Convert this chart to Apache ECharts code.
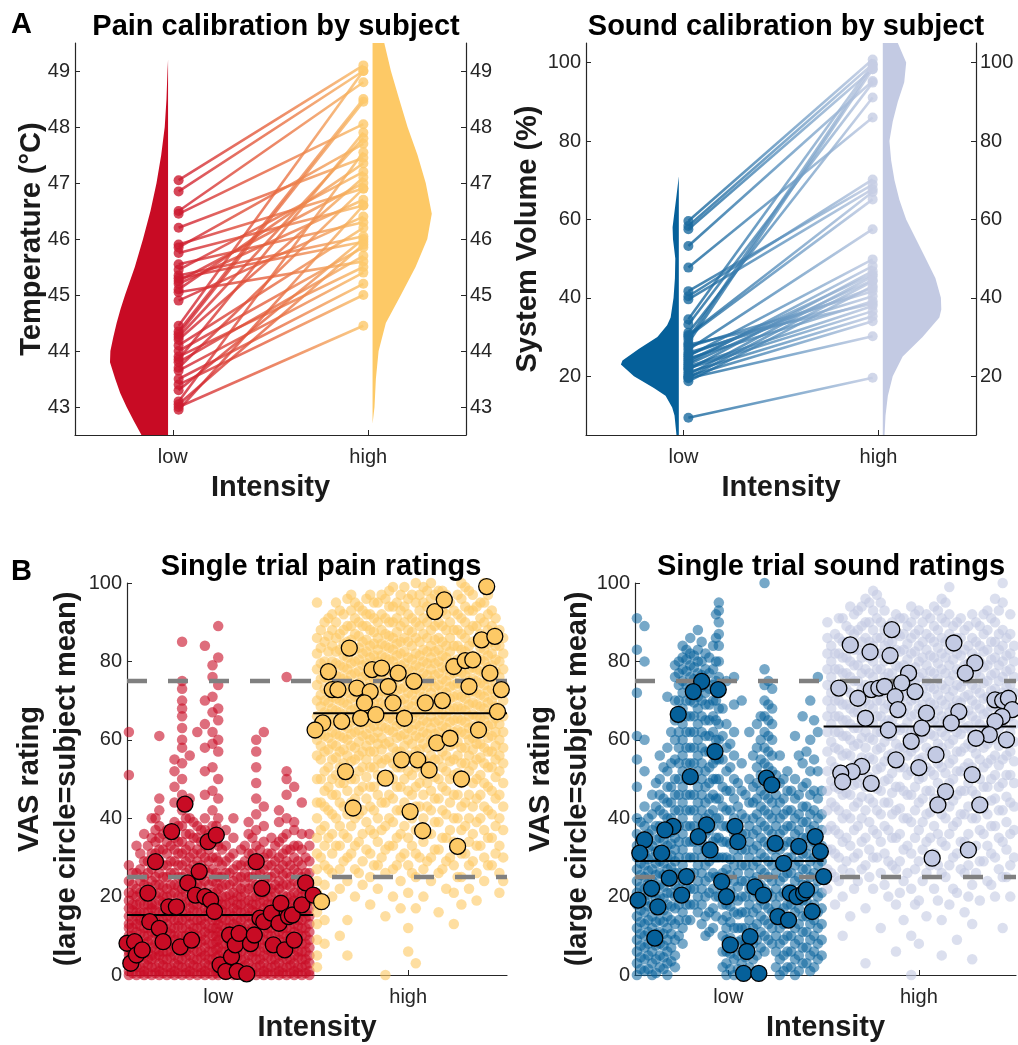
<!DOCTYPE html>
<html>
<head>
<meta charset="utf-8">
<title>Calibration and single trial ratings</title>
<script src="https://cdn.jsdelivr.net/npm/echarts@6/dist/echarts.min.js"></script>
<style>
  html, body { margin: 0; padding: 0; background: #fff; }
  #main { width: 1018px; height: 1045px; }
</style>
</head>
<body>
<div id="main"></div>
<script>
// ---- data ----
const intensityLabels = ['low', 'high']

// calibration per subject: low and high level in the same subject order
const painLowTemp = [47.05, 46.85, 46.5, 46.45, 46.2, 45.9, 45.85, 45.75, 45.55, 45.45, 45.35, 45.3,
  45.2, 45.1, 45.05, 44.9, 44.45, 44.35, 44.25, 44.2, 44.1, 44.0, 43.9, 43.8, 43.7, 43.65, 43.5,
  43.4, 43.3, 43.1, 43.0, 42.95, 44.3, 43.85, 45.25, 43.05]
const painHighTemp = [49.1, 49.0, 48.8, 48.05, 47.45, 46.9, 47.7, 46.6, 46.3, 47.2, 46.05, 45.95,
  46.7, 47.35, 45.6, 46.4, 49.0, 48.5, 47.8, 47.1, 46.2, 45.85, 45.5, 45.7, 46.9, 45.4, 45.2,
  45.0, 46.0, 47.55, 44.45, 46.6, 48.45, 47.9, 47.0, 45.9]
const soundLowVol = [59.6, 58.3, 57.5, 53.2, 47.7, 41.7, 40.4, 39.6, 34.5, 33.2, 31.1, 30.2, 28.5,
  26.8, 25.1, 23.4, 21.7, 20.4, 19.6, 18.7, 9.4, 27.5, 26, 24.5, 22.5, 22, 21, 20, 19.5, 24, 25.5,
  28, 23, 29.5, 30.5]
const soundHighVol = [100.8, 99.6, 98.3, 95.3, 86.0, 68.9, 70.2, 67.7, 99.6, 94.9, 91.1, 65.1, 98.3,
  57.5, 49.8, 48.1, 46.8, 45.5, 44.2, 43.0, 19.6, 41.7, 40.4, 39.1, 37.9, 36.6, 35.3, 34.0, 30.2,
  46.0, 42.5, 38.5, 44.5, 99.0, 67.0]

// violin outlines: [value, half width in x units]
const painLowViolin = [[42.5, 0.136], [42.75, 0.175], [43, 0.212], [43.25, 0.245], [43.5, 0.27],
  [43.8, 0.297], [44, 0.295], [44.25, 0.28], [44.5, 0.263], [44.75, 0.243], [45, 0.22], [45.5, 0.17],
  [46, 0.128], [46.5, 0.09], [47, 0.059], [47.5, 0.035], [48, 0.017], [48.5, 0.008], [49, 0.003], [49.2, 0]]
const painHighViolin = [[42.7, 0], [43, 0.01], [43.5, 0.017], [44, 0.031], [44.5, 0.068], [45, 0.145],
  [45.5, 0.22], [46, 0.28], [46.45, 0.303], [47, 0.272], [47.5, 0.23], [48, 0.179], [48.5, 0.136],
  [49, 0.094], [49.5, 0.06]]
const soundLowViolin = [[5, 0.012], [10, 0.022], [12, 0.034], [15, 0.068], [17, 0.128], [20, 0.23],
  [23, 0.297], [24, 0.289], [27, 0.204], [30, 0.11], [33, 0.06], [35, 0.042], [40, 0.027], [45, 0.02],
  [50, 0.018], [55, 0.03], [58, 0.032], [62, 0.022], [66, 0.012], [71, 0]]
const soundHighViolin = [[5, 0.009], [10, 0.014], [15, 0.026], [20, 0.051], [25, 0.102], [30, 0.204],
  [35, 0.29], [37, 0.3], [40, 0.298], [45, 0.27], [50, 0.22], [55, 0.17], [60, 0.12], [65, 0.085],
  [70, 0.06], [75, 0.043], [80, 0.034], [85, 0.051], [90, 0.077], [95, 0.11], [100, 0.12], [105, 0.077]]

// single trial ratings, grouped in columns: [x position, ratings]
const painLowTrials = [
  [0.53, [0, 1, 3, 5, 6, 8, 10, 12, 13, 15, 17, 19, 21, 24, 28, 51, 62]],
  [0.57, [0, 2, 4, 6, 7, 9, 11, 13, 15, 16, 18, 20, 22, 26, 33]],
  [0.61, [0, 1, 3, 5, 7, 8, 10, 12, 14, 16, 18, 20, 23, 25, 29, 36]],
  [0.65, [0, 2, 4, 5, 7, 9, 11, 13, 15, 17, 18, 21, 24, 27, 31, 35, 40]],
  [0.69, [0, 1, 3, 5, 6, 8, 10, 12, 14, 16, 19, 21, 23, 26, 29, 32, 35, 38, 42, 45, 61]],
  [0.73, [0, 2, 4, 6, 8, 9, 11, 13, 15, 17, 20, 22, 25, 28, 31, 34, 37]],
  [0.77, [0, 1, 3, 5, 7, 9, 10, 12, 14, 16, 18, 21, 23, 26, 29, 32, 35, 39, 44, 48, 52, 55]],
  [0.81, [0, 2, 4, 6, 8, 10, 12, 14, 16, 18, 20, 22, 25, 28, 31, 34, 38, 42, 46, 50, 54, 58, 60, 63, 66, 68, 70, 73, 75, 85]],
  [0.85, [0, 1, 3, 5, 7, 9, 11, 13, 15, 17, 19, 22, 24, 27, 30, 33, 36, 40, 45, 56]],
  [0.89, [0, 2, 4, 6, 8, 10, 12, 14, 16, 18, 20, 23, 26, 29, 32, 35, 38, 62]],
  [0.93, [0, 1, 3, 5, 7, 9, 11, 13, 15, 17, 19, 21, 24, 27, 30, 33, 37, 40, 46, 52, 58, 64, 70, 84]],
  [0.97, [0, 2, 4, 6, 8, 10, 12, 14, 16, 18, 21, 24, 27, 30, 34, 38, 42, 47, 53, 59, 62, 67, 71, 76, 79]],
  [1.00, [0, 1, 3, 5, 7, 9, 11, 13, 15, 17, 19, 22, 25, 29, 33, 36, 40, 45, 50, 57, 60, 65, 68, 74, 81, 89]],
  [1.04, [0, 2, 4, 6, 8, 10, 12, 14, 16, 18, 20, 23, 26, 29, 33, 37]],
  [1.08, [0, 1, 3, 5, 7, 9, 11, 13, 15, 17, 19, 21, 24, 27, 31, 35, 40]],
  [1.12, [0, 2, 4, 6, 8, 10, 12, 14, 16, 18, 20, 22, 25, 28, 32]],
  [1.16, [0, 1, 3, 5, 7, 9, 11, 13, 15, 17, 19, 22, 25, 28, 31, 36, 39]],
  [1.20, [0, 2, 4, 6, 8, 10, 12, 14, 16, 18, 20, 23, 26, 29, 33, 37, 41, 45, 49, 53, 57, 60]],
  [1.24, [0, 1, 3, 5, 7, 9, 11, 13, 15, 17, 19, 21, 24, 27, 30, 34, 38, 43, 62]],
  [1.28, [0, 2, 4, 6, 8, 10, 12, 14, 16, 18, 20, 22, 25, 28, 31, 35]],
  [1.32, [0, 1, 3, 5, 7, 9, 11, 13, 15, 17, 19, 22, 24, 27, 30, 34, 39, 42]],
  [1.36, [0, 2, 4, 6, 8, 10, 12, 14, 16, 18, 20, 23, 26, 29, 32, 36, 40, 46, 50, 52, 76]],
  [1.40, [0, 1, 3, 5, 7, 9, 11, 13, 15, 17, 19, 21, 24, 27, 30, 33, 37, 39, 48]],
  [1.44, [0, 2, 4, 6, 8, 10, 12, 14, 16, 18, 20, 22, 25, 28, 32, 36, 44]],
  [1.48, [0, 1, 3, 5, 7, 9, 11, 13, 15, 17, 19, 21, 23, 26, 29, 33, 36]]
]
// the in-between columns of the dense low-pain band
const painLowTrialsB = [
  [0.55, [0.5, 2.5, 4, 6.5, 8.5, 10, 12, 14, 16.5, 18, 20.5, 23, 26]],
  [0.59, [0.5, 2, 4.5, 6, 8, 10.5, 12.5, 14, 16, 18.5, 21, 24, 27, 31]],
  [0.63, [0.5, 2.5, 4, 6, 8.5, 10, 12, 14.5, 16, 18, 20, 22.5, 26, 29, 33]],
  [0.67, [0.5, 2, 4.5, 6.5, 8, 10.5, 12, 14, 16.5, 18, 20.5, 23, 25, 28, 31, 34, 37, 40]],
  [0.71, [0.5, 2.5, 4, 6, 8.5, 10, 12.5, 14, 16, 18.5, 20, 22.5, 25, 28, 32, 36]],
  [0.75, [0.5, 2, 4.5, 6, 8, 10.5, 12, 14.5, 16, 18, 20.5, 23, 26, 29, 33, 37]],
  [0.79, [0.5, 2.5, 4, 6.5, 8, 10, 12.5, 14, 16.5, 18, 20, 22.5, 25, 28, 31, 34, 38]],
  [0.83, [0.5, 2, 4.5, 6, 8.5, 10, 12, 14.5, 16, 18.5, 21, 23, 26, 29, 32, 36, 40]],
  [0.87, [0.5, 2.5, 4, 6.5, 8, 10.5, 12, 14, 16.5, 18, 20.5, 23, 25, 28, 31, 35, 39]],
  [0.91, [0.5, 2, 4.5, 6, 8.5, 10, 12.5, 14, 16, 18.5, 20, 22.5, 25, 28, 31, 34, 37]],
  [0.95, [0.5, 2.5, 4, 6, 8, 10.5, 12, 14.5, 16.5, 18, 20.5, 23, 26, 29, 32, 36]],
  [0.99, [0.5, 2, 4.5, 6.5, 8.5, 10, 12, 14, 16, 18.5, 21, 23.5, 26, 30, 34, 38]],
  [1.02, [0.5, 2.5, 4, 6, 8, 10.5, 12.5, 14.5, 16.5, 18, 20, 22.5, 25, 28, 32]],
  [1.06, [0.5, 2, 4.5, 6.5, 8.5, 10, 12, 14, 16, 18.5, 20.5, 23, 26, 30]],
  [1.10, [2, 4.5, 6, 8, 10.5, 12.5, 14, 16.5, 18, 20, 22.5, 25, 28]],
  [1.14, [0.5, 2.5, 4, 6.5, 8, 10, 12, 14.5, 16, 18.5, 21, 23.5, 26, 29, 33]],
  [1.18, [0.5, 2, 4.5, 6, 8.5, 10.5, 12, 14, 16.5, 18, 20, 22.5, 25, 28, 31, 35]],
  [1.22, [0.5, 2.5, 4, 6, 8, 10, 12.5, 14.5, 16, 18.5, 20.5, 23, 26, 29, 32]],
  [1.26, [0.5, 2, 4.5, 6.5, 8.5, 10.5, 12, 14, 16.5, 18, 20, 22.5, 25, 28, 31]],
  [1.30, [0.5, 2.5, 4, 6, 8, 10, 12.5, 14.5, 16, 18.5, 21, 23, 26, 29, 33]],
  [1.34, [0.5, 2, 4.5, 6, 8.5, 10.5, 12, 14, 16.5, 18, 20.5, 23, 25.5, 28, 31, 35]],
  [1.38, [0.5, 2.5, 4, 6.5, 8, 10, 12, 14.5, 16, 18.5, 20, 22.5, 25, 28, 32]],
  [1.42, [0.5, 2, 4.5, 6, 8.5, 10.5, 12.5, 14, 16.5, 18, 20.5, 23, 26, 29, 33]],
  [1.46, [0.5, 2.5, 4, 6, 8, 10, 12, 14.5, 16, 18.5, 21, 23.5, 26, 30]]
]
const painHighTrials = [
  [1.52, [2, 5, 9, 13, 16, 18, 21, 24, 27, 31, 35, 40, 44, 50, 56, 60, 63, 66, 70, 74, 78, 82, 86, 95]],
  [1.56, [8, 14, 19, 23, 28, 33, 38, 43, 47, 52, 57, 61, 64, 67, 70, 73, 76, 80, 85, 90]],
  [1.60, [20, 26, 31, 36, 41, 46, 50, 55, 59, 62, 65, 68, 71, 74, 77, 80, 84, 88, 92]],
  [1.64, [10, 22, 27, 33, 38, 44, 49, 53, 57, 61, 64, 67, 70, 73, 76, 79, 83, 87, 93]],
  [1.68, [5, 14, 24, 30, 35, 41, 47, 52, 56, 60, 63, 66, 69, 72, 75, 78, 81, 85, 89, 96]],
  [1.72, [20, 27, 33, 40, 45, 50, 55, 58, 62, 65, 68, 71, 74, 77, 80, 83, 87, 91, 95]],
  [1.76, [23, 29, 36, 42, 48, 53, 57, 61, 64, 67, 70, 73, 76, 79, 82, 85, 89, 93]],
  [1.80, [18, 25, 31, 37, 43, 48, 53, 57, 60, 63, 66, 69, 72, 75, 78, 81, 84, 88, 92, 97]],
  [1.84, [22, 28, 34, 40, 46, 51, 55, 59, 62, 65, 68, 71, 74, 77, 80, 83, 86, 90, 95]],
  [1.88, [0, 15, 26, 32, 38, 44, 50, 55, 59, 63, 66, 69, 72, 75, 78, 81, 84, 87, 91, 96]],
  [1.92, [20, 27, 33, 39, 45, 50, 54, 58, 62, 65, 68, 71, 74, 77, 80, 83, 86, 90, 94, 99]],
  [1.96, [17, 24, 30, 36, 42, 48, 53, 57, 61, 64, 67, 70, 73, 76, 79, 82, 85, 89, 93, 97]],
  [2.00, [6, 12, 21, 28, 35, 41, 47, 52, 56, 60, 63, 66, 69, 72, 75, 78, 81, 85, 88, 92, 96]],
  [2.04, [3, 17, 25, 31, 37, 43, 48, 53, 57, 61, 64, 67, 70, 73, 76, 79, 82, 86, 90, 95, 100]],
  [2.08, [20, 27, 34, 40, 46, 51, 55, 59, 62, 65, 68, 71, 74, 77, 80, 83, 87, 91, 95, 99]],
  [2.12, [24, 30, 36, 42, 47, 52, 56, 60, 63, 66, 69, 72, 75, 78, 81, 84, 88, 92, 96, 100]],
  [2.16, [16, 26, 32, 39, 45, 50, 55, 59, 62, 65, 68, 71, 74, 77, 80, 83, 86, 90, 94, 98]],
  [2.20, [22, 29, 35, 41, 47, 52, 56, 60, 63, 66, 69, 72, 75, 78, 81, 84, 88, 92, 97]],
  [2.24, [13, 21, 28, 34, 40, 46, 51, 55, 59, 62, 65, 68, 71, 74, 77, 80, 84, 88, 93]],
  [2.28, [18, 25, 31, 37, 43, 49, 54, 58, 62, 65, 68, 71, 74, 77, 80, 83, 87, 91, 96, 100]],
  [2.32, [22, 28, 34, 40, 46, 52, 56, 60, 63, 66, 69, 72, 75, 78, 81, 84, 88, 93, 98]],
  [2.36, [19, 26, 33, 39, 45, 50, 55, 59, 63, 66, 69, 72, 75, 78, 81, 85, 89, 94]],
  [2.40, [24, 30, 37, 43, 49, 54, 58, 62, 65, 68, 71, 74, 77, 80, 83, 86, 90, 95, 100]],
  [2.44, [28, 35, 41, 47, 53, 57, 61, 64, 67, 70, 73, 76, 79, 82, 85, 89, 93]],
  [2.48, [21, 26, 33, 40, 46, 52, 56, 60, 64, 68, 72, 76, 80, 84, 88]]
]
const painHighTrialsB = [
  [1.54, [30, 37, 44, 50, 55, 58.5, 61.5, 64.5, 68.5, 71.5, 75.5, 79.5, 83.5, 88]],
  [1.58, [27, 35, 42, 48, 53, 57.5, 60.5, 63.5, 66.5, 69.5, 72.5, 75.5, 78.5, 82.5, 86.5, 91]],
  [1.62, [33, 40, 46, 51, 55.5, 58.5, 61.5, 64.5, 67.5, 70.5, 73.5, 76.5, 79.5, 82.5, 86, 90, 95]],
  [1.66, [29, 36, 43, 49, 54, 57.5, 60.5, 63.5, 66.5, 69.5, 72.5, 75.5, 78.5, 81.5, 84.5, 88, 92]],
  [1.70, [31, 38, 44, 50, 54.5, 58.5, 61.5, 64.5, 67.5, 70.5, 73.5, 76.5, 79.5, 82.5, 85.5, 89, 93, 97]],
  [1.74, [26, 34, 41, 47, 52, 56, 59.5, 62.5, 65.5, 68.5, 71.5, 74.5, 77.5, 80.5, 83.5, 86.5, 90, 94]],
  [1.78, [32, 39, 45, 50.5, 55, 58.5, 61.5, 64.5, 67.5, 70.5, 73.5, 76.5, 79.5, 82.5, 85.5, 89, 92, 96]],
  [1.82, [28, 36, 42, 48, 53, 57, 60.5, 63.5, 66.5, 69.5, 72.5, 75.5, 78.5, 81.5, 84.5, 87.5, 91, 95]],
  [1.86, [30, 37, 44, 49.5, 54, 57.5, 60.5, 63.5, 66.5, 69.5, 72.5, 75.5, 78.5, 81.5, 84.5, 88, 92, 97]],
  [1.90, [33, 40, 46, 51, 55.5, 59.5, 62.5, 65.5, 68.5, 71.5, 74.5, 77.5, 80.5, 83.5, 86.5, 90, 94, 98]],
  [1.94, [28, 35, 42, 48, 53, 57, 60.5, 63.5, 66.5, 69.5, 72.5, 75.5, 78.5, 81.5, 84.5, 87.5, 91, 95]],
  [1.98, [31, 38, 44, 50, 54.5, 58.5, 61.5, 64.5, 67.5, 70.5, 73.5, 76.5, 79.5, 82.5, 86, 90, 94, 99]],
  [2.02, [26, 33, 40, 46, 51, 55.5, 59, 62.5, 65.5, 68.5, 71.5, 74.5, 77.5, 80.5, 84, 87.5, 91, 97]],
  [2.06, [30, 37, 43, 49, 53.5, 57.5, 60.5, 63.5, 66.5, 69.5, 72.5, 75.5, 78.5, 81.5, 85, 89, 93, 97]],
  [2.10, [29, 36, 43, 49, 54, 58, 61.5, 64.5, 67.5, 70.5, 73.5, 76.5, 79.5, 82.5, 86, 90, 94, 98]],
  [2.14, [32, 39, 45, 50.5, 55, 58.5, 61.5, 64.5, 67.5, 70.5, 73.5, 76.5, 79.5, 82.5, 85.5, 89, 93, 97]],
  [2.18, [27, 35, 42, 48, 53, 57, 60.5, 63.5, 66.5, 69.5, 72.5, 75.5, 78.5, 81.5, 85, 89, 93, 98]],
  [2.22, [30, 37, 44, 50, 54.5, 58.5, 61.5, 64.5, 67.5, 70.5, 73.5, 76.5, 79.5, 82.5, 86, 90, 95]],
  [2.26, [25, 33, 40, 46, 51.5, 56, 59.5, 62.5, 65.5, 68.5, 71.5, 74.5, 77.5, 80.5, 84, 88, 92, 97]],
  [2.30, [31, 38, 44, 49.5, 54, 58, 61.5, 64.5, 67.5, 70.5, 73.5, 76.5, 79.5, 82.5, 86, 90, 94, 99]],
  [2.34, [29, 36, 43, 49, 53.5, 57.5, 60.5, 63.5, 66.5, 69.5, 72.5, 75.5, 78.5, 81.5, 85, 89, 93, 97]],
  [2.38, [33, 40, 46, 51, 55.5, 59, 62.5, 65.5, 68.5, 71.5, 74.5, 77.5, 80.5, 83.5, 87, 91, 95]],
  [2.42, [28, 35, 42, 48, 53, 57, 60.5, 63.5, 66.5, 69.5, 72.5, 75.5, 78.5, 81.5, 84.5, 88, 92, 97]],
  [2.46, [31, 38, 45, 50.5, 55, 58.5, 62, 65.5, 68.5, 71.5, 74.5, 77.5, 80.5, 84, 87.5, 91]],
  [2.50, [24, 30, 37, 43, 49, 54, 58, 62, 66, 70, 74, 78, 82, 86]]
]
const soundLowTrials = [
  [0.52, [0, 3, 6, 9, 12, 15, 18, 21, 24, 27, 30, 33, 36, 40, 48, 55, 61, 72, 83, 91]],
  [0.56, [1, 4, 7, 10, 13, 16, 19, 22, 25, 28, 31, 34, 38, 43, 52, 60, 80, 89]],
  [0.60, [0, 3, 6, 9, 12, 15, 18, 21, 24, 27, 30, 33, 37, 41, 46]],
  [0.64, [2, 5, 8, 11, 14, 17, 20, 23, 26, 29, 32, 35, 38, 42, 46, 50, 56]],
  [0.68, [0, 3, 6, 9, 12, 15, 18, 21, 24, 27, 30, 33, 36, 40, 44, 48, 52, 58, 71]],
  [0.72, [2, 5, 9, 13, 17, 20, 23, 26, 29, 32, 35, 38, 42, 46, 50, 55, 60, 65, 70, 76, 79]],
  [0.76, [8, 12, 16, 20, 24, 28, 32, 36, 40, 44, 48, 52, 56, 60, 64, 68, 72, 75, 78, 81, 84]],
  [0.80, [14, 18, 22, 26, 30, 34, 38, 42, 46, 50, 54, 58, 62, 66, 70, 73, 76, 79, 82, 86]],
  [0.84, [16, 20, 24, 28, 32, 36, 40, 44, 48, 52, 56, 60, 64, 68, 71, 74, 77, 80, 83, 88]],
  [0.88, [10, 15, 20, 24, 28, 32, 36, 40, 44, 48, 52, 57, 61, 65, 69, 72, 75, 78, 82]],
  [0.92, [12, 17, 22, 26, 30, 34, 38, 42, 46, 50, 54, 58, 62, 66, 70, 74, 78, 84]],
  [0.95, [20, 25, 30, 35, 40, 45, 50, 55, 60, 64, 68, 72, 76, 80, 84, 87, 90, 93, 95]],
  [0.99, [0, 3, 6, 9, 12, 15, 18, 21, 24, 27, 30, 34, 38, 42, 47, 52, 58, 64, 75]],
  [1.03, [0, 4, 8, 12, 16, 20, 24, 28, 32, 36, 40, 45, 50, 56, 62, 69, 76]],
  [1.07, [0, 3, 6, 9, 12, 16, 20, 24, 28, 32, 36, 41, 47, 54, 70]],
  [1.11, [2, 6, 10, 14, 18, 22, 26, 30, 34, 38, 44, 50, 62]],
  [1.15, [5, 9, 13, 17, 21, 25, 29, 33, 37, 41, 45, 49, 53, 58, 64]],
  [1.19, [6, 10, 14, 18, 22, 26, 30, 34, 38, 42, 46, 50, 54, 58, 62, 66, 70, 74, 78, 100]],
  [1.23, [8, 12, 16, 20, 24, 28, 32, 36, 40, 44, 48, 52, 56, 60, 64, 68, 73]],
  [1.27, [0, 4, 8, 12, 16, 20, 24, 28, 32, 36, 40, 44, 49, 56]],
  [1.31, [2, 6, 10, 14, 18, 22, 26, 30, 34, 38, 42, 47, 52]],
  [1.35, [0, 4, 8, 12, 16, 20, 24, 28, 32, 36, 40, 45, 50, 61]],
  [1.39, [3, 7, 11, 15, 19, 23, 27, 31, 35, 39, 43, 48, 54, 66]],
  [1.43, [1, 5, 9, 13, 17, 21, 25, 29, 33, 37, 41, 46, 52, 60, 70]],
  [1.47, [4, 8, 12, 16, 20, 24, 28, 32, 36, 40, 45, 52, 62, 76]]
]
const soundLowTrialsB = [
  [0.54, [1.5, 4.5, 7.5, 10.5, 13.5, 16.5, 19.5, 22.5, 25.5, 28.5, 31.5, 35, 39]],
  [0.58, [1.5, 5, 8, 11, 14, 17.5, 20.5, 23.5, 26.5, 29.5, 32.5, 36, 40]],
  [0.62, [0.5, 4, 7.5, 10.5, 13.5, 16.5, 19.5, 22.5, 25.5, 28.5, 31.5, 34.5, 38, 43, 49]],
  [0.66, [1.5, 4.5, 7.5, 10.5, 13.5, 16.5, 19.5, 22.5, 25.5, 28.5, 31.5, 34.5, 37.5, 41, 45, 53]],
  [0.70, [3.5, 7, 10.5, 14, 17.5, 21, 24.5, 27.5, 30.5, 33.5, 36.5, 40, 44, 48, 54, 62]],
  [0.74, [10, 14, 18, 22, 26, 30, 34, 38, 42, 46, 50, 54, 58, 62, 66, 70, 74, 77, 80]],
  [0.78, [14, 18, 22, 26, 30, 34, 38, 42, 46, 50, 54, 58, 62, 66, 70, 74, 77.5, 80.5, 83]],
  [0.82, [18, 22, 26, 30, 34, 38, 42, 46, 50, 54, 58, 62, 66, 69.5, 72.5, 75.5, 78.5, 81.5]],
  [0.86, [13, 18, 22, 26, 30, 34, 38, 42, 46, 50, 54, 58, 62, 66, 70, 73.5, 76.5, 80, 85]],
  [0.90, [11, 16, 21, 25, 29, 33, 37, 41, 45, 49, 53, 57, 61, 65, 69, 73, 77, 81]],
  [0.935, [15, 20, 25, 30, 35, 40, 45, 50, 55, 60, 65, 70, 75, 80, 86, 92]],
  [0.97, [2, 6, 10, 14, 18, 22, 26, 30, 34, 38, 43, 48, 55, 61, 68]],
  [1.01, [1.5, 5.5, 9.5, 13.5, 17.5, 21.5, 25.5, 29.5, 33.5, 37.5, 42, 47, 53, 59]],
  [1.05, [1.5, 5, 8.5, 12, 15.5, 19, 22.5, 26, 30, 34, 38.5, 43, 49]],
  [1.09, [1, 4.5, 8, 12, 16, 20, 24, 28, 32, 36, 40, 46]],
  [1.13, [4, 8, 12, 16, 20, 24, 28, 32, 36, 40, 44, 48, 56]],
  [1.17, [7, 11, 15, 19, 23, 27, 31, 35, 39, 43, 47, 51, 55, 60, 66]],
  [1.21, [9, 13, 17, 21, 25, 29, 33, 37, 41, 45, 49, 53, 57, 61, 65, 69, 75]],
  [1.25, [2, 6, 10, 14, 18, 22, 26, 30, 34, 38, 42, 46, 51]],
  [1.29, [1, 5, 9, 13, 17, 21, 25, 29, 33, 37, 41, 45, 50]],
  [1.33, [2, 6, 10, 14, 18, 22, 26, 30, 34, 38, 42, 47]],
  [1.37, [1, 5, 9, 13, 17, 21, 25, 29, 33, 37, 41, 46, 56]],
  [1.41, [3, 7, 11, 15, 19, 23, 27, 31, 35, 39, 43, 49, 57]],
  [1.45, [2, 6, 10, 14, 18, 22, 26, 30, 34, 38, 42, 47, 55, 65]],
  [1.49, [5, 9, 13, 17, 21, 25, 29, 33, 37, 41, 47]]
]
const soundHighTrials = [
  [1.52, [22, 27, 32, 37, 42, 47, 52, 57, 62, 66, 70, 74, 78, 82, 86, 90]],
  [1.56, [18, 25, 31, 37, 43, 48, 53, 58, 62, 66, 70, 74, 78, 82, 87]],
  [1.60, [10, 20, 27, 34, 40, 46, 51, 56, 61, 65, 69, 73, 77, 81, 85, 91]],
  [1.64, [15, 26, 33, 40, 46, 51, 56, 60, 64, 68, 72, 76, 80, 84, 88, 94]],
  [1.68, [24, 31, 38, 44, 49, 54, 59, 63, 67, 71, 75, 79, 83, 88, 93]],
  [1.72, [3, 17, 28, 35, 42, 48, 53, 58, 62, 66, 70, 74, 78, 82, 86, 90, 96]],
  [1.76, [22, 30, 37, 44, 50, 55, 60, 64, 68, 72, 76, 80, 84, 88, 93, 98]],
  [1.80, [12, 26, 34, 41, 47, 53, 58, 62, 66, 70, 74, 78, 82, 86, 90, 95]],
  [1.84, [20, 29, 37, 44, 50, 56, 61, 65, 69, 73, 77, 81, 85, 89]],
  [1.88, [6, 18, 27, 35, 42, 48, 54, 59, 63, 67, 71, 75, 79, 83, 87, 92]],
  [1.92, [14, 24, 32, 40, 47, 53, 58, 63, 67, 71, 75, 79, 83, 87, 91]],
  [1.96, [0, 10, 22, 31, 39, 46, 52, 57, 62, 66, 70, 74, 78, 82, 86, 90, 94]],
  [2.00, [8, 19, 29, 37, 44, 50, 55, 60, 64, 68, 72, 76, 80, 84, 88, 93]],
  [2.04, [15, 26, 34, 41, 47, 53, 58, 63, 67, 71, 75, 79, 83, 87, 92]],
  [2.08, [22, 31, 38, 45, 51, 56, 61, 65, 69, 73, 77, 81, 85, 89, 94]],
  [2.12, [5, 14, 26, 34, 41, 47, 53, 58, 62, 66, 70, 74, 78, 82, 86, 91, 96]],
  [2.16, [18, 28, 36, 43, 49, 54, 59, 63, 67, 71, 75, 79, 83, 87, 92, 99]],
  [2.20, [9, 21, 31, 39, 46, 52, 57, 62, 66, 70, 74, 78, 82, 86, 90]],
  [2.24, [16, 26, 34, 41, 47, 53, 58, 63, 67, 71, 75, 79, 83, 88]],
  [2.28, [4, 13, 23, 32, 40, 47, 53, 58, 62, 66, 70, 74, 78, 82, 86, 92]],
  [2.32, [19, 29, 37, 44, 50, 55, 60, 64, 68, 72, 76, 80, 84, 89]],
  [2.36, [24, 33, 41, 48, 54, 59, 63, 67, 71, 75, 79, 83, 88, 93]],
  [2.40, [20, 30, 38, 45, 51, 56, 61, 65, 69, 73, 77, 81, 85, 90, 96]],
  [2.44, [12, 25, 34, 42, 49, 55, 60, 64, 68, 72, 76, 80, 84, 88, 95, 100]],
  [2.48, [20, 28, 36, 44, 51, 57, 62, 66, 70, 74, 78, 82, 87, 92]]
]
const soundHighTrialsB = [
  [1.54, [26, 32, 38, 44, 49.5, 54.5, 59.5, 64, 68, 72, 76, 80, 84]],
  [1.58, [24, 30, 36, 42, 47.5, 52.5, 57.5, 62, 66, 70, 74, 78, 82, 86, 91]],
  [1.62, [29, 35, 41, 46.5, 51.5, 56.5, 61, 65, 69, 73, 77, 81, 85, 89]],
  [1.66, [22, 30, 37, 43, 48.5, 53.5, 58.5, 63, 67, 71, 75, 79, 83, 87, 92]],
  [1.70, [27, 34, 40, 45.5, 50.5, 55.5, 60.5, 65, 69, 73, 77, 81, 85, 89, 94]],
  [1.74, [25, 32, 39, 45, 50.5, 55.5, 60.5, 65, 69, 73, 77, 81, 85, 90, 95]],
  [1.78, [30, 36, 42, 47.5, 52.5, 57.5, 62, 66, 70, 74, 78, 82, 86, 91, 97]],
  [1.82, [23, 31, 38, 44, 49.5, 54.5, 59.5, 64, 68, 72, 76, 80, 84, 88, 93]],
  [1.86, [28, 35, 41, 46.5, 51.5, 56.5, 61, 65, 69, 73, 77, 81, 85, 90]],
  [1.90, [21, 29, 36, 42.5, 48, 53, 58, 62.5, 66.5, 70.5, 74.5, 78.5, 82.5, 86.5, 91]],
  [1.94, [26, 33, 40, 46, 51, 56, 60.5, 64.5, 68.5, 72.5, 76.5, 80.5, 84.5, 89]],
  [1.98, [18, 27, 35, 42, 48, 53, 58, 62.5, 66.5, 70.5, 74.5, 78.5, 82.5, 87, 92]],
  [2.02, [24, 32, 39, 45, 50.5, 55.5, 60.5, 65, 69, 73, 77, 81, 85, 90]],
  [2.06, [28, 35, 41.5, 47, 52, 57, 61.5, 65.5, 69.5, 73.5, 77.5, 81.5, 86, 91]],
  [2.10, [19, 28, 36, 43, 49, 54, 59, 63.5, 67.5, 71.5, 75.5, 79.5, 83.5, 88, 93]],
  [2.14, [25, 33, 40, 46, 51.5, 56.5, 61, 65, 69, 73, 77, 81, 85, 90, 95]],
  [2.18, [22, 30, 38, 44.5, 50, 55, 60, 64.5, 68.5, 72.5, 76.5, 80.5, 84.5, 89]],
  [2.22, [27, 34, 41, 47, 52, 57, 61.5, 65.5, 69.5, 73.5, 77.5, 81.5, 86, 91]],
  [2.26, [20, 28, 36, 43, 49, 54, 59, 63.5, 67.5, 71.5, 75.5, 79.5, 84, 89]],
  [2.30, [26, 33, 40, 46, 51.5, 56.5, 61, 65, 69, 73, 77, 81, 85, 90]],
  [2.34, [29, 36, 42.5, 48, 53, 58, 62.5, 66.5, 70.5, 74.5, 78.5, 82.5, 87, 92]],
  [2.38, [23, 31, 38, 44.5, 50, 55, 60, 64.5, 68.5, 72.5, 76.5, 80.5, 85, 91]],
  [2.42, [27, 35, 42, 48, 53.5, 58.5, 63, 67, 71, 75, 79, 83, 87, 93]],
  [2.46, [25, 32, 39, 45.5, 51, 56, 61, 65.5, 69.5, 73.5, 77.5, 81.5, 86]],
  [2.50, [30, 37, 43, 49, 54.5, 59.5, 64, 68, 72, 76, 80, 84]]
]

// subject means: [x position, mean rating]
const painLowMeans = [[0.52, 8.1], [0.54, 3.0], [0.56, 8.5], [0.57, 5.1], [0.6, 6.4], [0.63, 20.9],
  [0.64, 13.6], [0.67, 28.9], [0.69, 11.9], [0.71, 8.5], [0.74, 17.4], [0.755, 36.6], [0.78, 17.4],
  [0.8, 7.2], [0.825, 43.6], [0.84, 23.5], [0.86, 8.9], [0.88, 20.4], [0.9, 26.4], [0.93, 20.0],
  [0.947, 34.0], [0.99, 35.7], [0.96, 19.1], [0.98, 16.2], [1.01, 2.6], [1.04, 0.9], [1.06, 10.2],
  [1.07, 4.7], [1.09, 7.7], [1.1, 0.9], [1.11, 10.6], [1.15, 0.3], [1.17, 8.0], [1.19, 10.2],
  [1.2, 28.9], [1.22, 14.5], [1.23, 22.1], [1.24, 13.6], [1.28, 15.8], [1.29, 7.7], [1.32, 13.2],
  [1.33, 18.3], [1.35, 6.4], [1.37, 14.9], [1.39, 15.3], [1.4, 8.9], [1.44, 17.9], [1.46, 23.5], [1.5, 20.4]]
const painHighMeans = [[2.413, 99.1], [2.14, 92.7], [2.19, 95.7], [1.69, 83.4], [2.386, 85.5],
  [2.456, 86.4], [1.58, 77.4], [1.81, 77.9], [1.86, 78.3], [1.947, 77.0], [2.24, 78.7], [2.3, 80.2],
  [2.34, 80.4], [2.43, 77.0], [2.03, 74.9], [1.6, 72.8], [1.63, 72.8], [1.73, 73.2], [1.8, 72.3],
  [1.895, 73.6], [2.49, 72.8], [2.32, 73.6], [1.77, 69.4], [1.92, 69.4], [2.09, 69.4], [2.18, 70.0],
  [1.55, 64.3], [1.51, 62.5], [1.65, 64.7], [1.75, 65.5], [1.83, 66.4], [1.98, 65.5], [2.47, 67.2],
  [2.15, 59.2], [2.22, 60.4], [2.37, 62.5], [1.965, 54.9], [2.05, 54.9], [2.11, 52.3], [1.67, 51.9],
  [1.88, 50.2], [2.28, 50.0], [1.71, 42.6], [2.01, 41.7], [2.076, 36.8], [2.26, 32.8], [1.544, 18.7]]
const soundLowMeans = [[0.86, 74.9], [0.816, 72.3], [0.947, 72.8], [0.737, 66.5], [0.93, 57.0],
  [0.8, 50.6], [1.2, 50.2], [1.228, 48.5], [0.71, 37.9], [0.667, 37.0], [0.886, 38.3], [0.842, 35.3],
  [1.035, 37.9], [1.05, 34.0], [0.56, 34.5], [0.904, 31.9], [0.535, 31.1], [0.65, 31.1], [1.246, 33.6],
  [1.37, 32.8], [1.456, 35.3], [1.483, 31.5], [1.29, 28.5], [1.5, 25.1], [0.69, 24.7], [0.78, 25.1],
  [0.597, 22.1], [0.965, 23.8], [1.14, 22.5], [0.526, 19.1], [0.755, 20.4], [0.99, 20.0], [1.184, 20.4],
  [1.325, 20.9], [1.36, 20.0], [1.395, 20.9], [1.41, 21.7], [0.63, 17.4], [1.44, 16.2], [1.26, 14.9],
  [1.316, 14.0], [0.614, 9.4], [1.01, 7.7], [1.114, 9.8], [1.097, 6.0], [1.08, 0.4], [1.16, 0.4]]
const soundHighMeans = [[1.858, 88.1], [1.64, 84.2], [2.184, 84.7], [1.744, 82.4], [1.849, 81.5],
  [2.294, 79.6], [2.244, 77.0], [1.946, 77.0], [1.58, 73.2], [1.75, 72.8], [1.79, 73.2], [1.82, 73.6],
  [1.91, 74.5], [1.98, 72.3], [1.876, 71.0], [1.68, 70.6], [2.4, 70.2], [2.44, 70.0], [2.47, 70.6],
  [1.89, 67.7], [2.04, 66.8], [2.21, 67.2], [2.49, 67.7], [1.72, 65.5], [2.437, 65.9], [2.4, 64.7],
  [2.17, 64.3], [2.015, 63.0], [1.84, 62.5], [2.37, 61.3], [2.3, 60.4], [2.46, 60.0], [1.96, 59.6],
  [2.09, 56.2], [1.88, 54.9], [2.0, 52.9], [1.7, 53.2], [1.65, 51.9], [1.59, 51.5], [1.6, 49.3],
  [1.75, 48.9], [2.28, 51.1], [2.14, 46.8], [2.1, 43.4], [2.32, 43.4], [2.26, 31.9], [2.07, 29.8]]

const painGrandMean = [15.3, 66.8]
const soundGrandMean = [29.1, 63.4]
const refLevels = [25, 75]

// ---- styling ----
const font = "'Liberation Sans', Arial, Helvetica, sans-serif"
const ink = '#262626'
const red = '#C80B24'
const yellow = '#FDC966'
const blue = '#05609A'
const lavender = '#C3CAE3'

const boldText = { fontSize: 29, fontWeight: 'bold', color: '#1a1a1a', fontFamily: font }

const xAxisFor = (grid, min, max) => ({
  type: 'value', gridIndex: grid, min, max,
  name: 'Intensity', nameLocation: 'middle', nameGap: 38, nameTextStyle: boldText,
  axisLine: { lineStyle: { color: ink, width: 1.2 } },
  axisTick: { inside: true, length: 5, customValues: [1, 2], lineStyle: { color: ink } },
  axisLabel: {
    customValues: [1, 2], formatter: v => intensityLabels[Math.round(v) - 1],
    fontSize: 20, color: ink, margin: 12, fontFamily: font
  },
  splitLine: { show: false }
})

const yAxisFor = (grid, min, max, ticks, name, nameGap, position) => ({
  type: 'value', gridIndex: grid, min, max, position: position || 'left',
  name: name || '', nameLocation: 'middle', nameGap: nameGap || 0, nameRotate: 90,
  nameMoveOverlap: false,
  nameTextStyle: Object.assign({ lineHeight: 37 }, boldText),
  axisLine: { show: true, lineStyle: { color: ink, width: 1.2 } },
  axisTick: { inside: true, length: 5, customValues: ticks, lineStyle: { color: ink } },
  axisLabel: { customValues: ticks, fontSize: 20, color: ink, margin: 5, fontFamily: font },
  splitLine: { show: false }
})

const tempTicks = [43, 44, 45, 46, 47, 48, 49]
const volTicks = [20, 40, 60, 80, 100]
const vasTicks = [0, 20, 40, 60, 80, 100]

// half violin drawn as a polygon through the axis scales
const violin = (profile, edgeX, side, color, xi, yi) => ({
  type: 'custom', coordinateSystem: 'cartesian2d', xAxisIndex: xi, yAxisIndex: yi,
  data: [[edgeX, profile[0][0]]], z: 1, silent: true,
  renderItem: (params, api) => {
    const pts = profile.map(([y, w]) => api.coord([edgeX + side * w, y]))
    pts.push(api.coord([edgeX, profile[profile.length - 1][0]]))
    pts.push(api.coord([edgeX, profile[0][0]]))
    return { type: 'polygon', shape: { points: pts }, style: { fill: color } }
  }
})

const subjectLines = (lows, highs, lowX, highX, stops, xi, yi) => lows.map((v, i) => ({
  type: 'line', xAxisIndex: xi, yAxisIndex: yi, silent: true, z: 2,
  data: [[lowX, v], [highX, highs[i]]], symbol: 'none',
  lineStyle: { width: 2.6, opacity: 0.8, color: new echarts.graphic.LinearGradient(0, 0, 1, 0, stops) }
}))

const dots = (xs, vals, color, xi, yi) => ({
  type: 'scatter', xAxisIndex: xi, yAxisIndex: yi, silent: true, z: 3, symbolSize: 10,
  data: vals.map(v => [xs, v]), itemStyle: { color, opacity: 0.8 }
})

const trialDots = (cols, color, opacity, xi, yi) => ({
  type: 'scatter', xAxisIndex: xi, yAxisIndex: yi, silent: true, z: 2, symbolSize: 10.5,
  data: cols.flatMap(([x, ys]) => ys.map(y => [x, y])),
  itemStyle: { color, opacity }
})

const meanCircles = (pts, color, xi, yi) => ({
  type: 'scatter', xAxisIndex: xi, yAxisIndex: yi, silent: true, z: 6, symbolSize: 16,
  data: pts, itemStyle: { color, borderColor: '#000', borderWidth: 1.3, opacity: 1 }
})

const hLine = (x0, x1, y, style, z, xi, yi) => ({
  type: 'line', xAxisIndex: xi, yAxisIndex: yi, silent: true, z, symbol: 'none',
  data: [[x0, y], [x1, y]], lineStyle: style
})

const dashStyle = { color: '#808080', width: 4.5, type: [20, 21] }
const meanStyle = { color: '#000', width: 2 }

const series = [
  violin(painLowViolin, 0.976, -1, red, 0, 0),
  violin(painHighViolin, 2.022, 1, yellow, 0, 0),
  ...subjectLines(painLowTemp, painHighTemp, 1.03, 1.975,
    [{ offset: 0, color: '#CF1C31' }, { offset: 0.5, color: '#E7663F' }, { offset: 1, color: '#FAC368' }], 0, 0),
  dots(1.03, painLowTemp, '#CC1A30', 0, 0),
  dots(1.975, painHighTemp, '#FCC86A', 0, 0),

  violin(soundLowViolin, 0.976, -1, blue, 1, 2),
  violin(soundHighViolin, 2.022, 1, lavender, 1, 2),
  ...subjectLines(soundLowVol, soundHighVol, 1.025, 1.97,
    [{ offset: 0, color: '#0D6199' }, { offset: 0.5, color: '#5E93BF' }, { offset: 1, color: '#C3CBE3' }], 1, 2),
  dots(1.025, soundLowVol, '#1A6A9F', 1, 2),
  dots(1.97, soundHighVol, '#C6CDE4', 1, 2),

  trialDots(painLowTrials.concat(painLowTrialsB), red, 0.6, 2, 4),
  trialDots(painHighTrials.concat(painHighTrialsB), yellow, 0.62, 2, 4),
  ...refLevels.map(r => hLine(0.52, 2.52, r, dashStyle, 3, 2, 4)),
  hLine(0.52, 1.5, painGrandMean[0], meanStyle, 4, 2, 4),
  hLine(1.5, 2.52, painGrandMean[1], meanStyle, 4, 2, 4),
  meanCircles(painLowMeans, red, 2, 4),
  meanCircles(painHighMeans, yellow, 2, 4),

  trialDots(soundLowTrials.concat(soundLowTrialsB), blue, 0.55, 3, 5),
  trialDots(soundHighTrials.concat(soundHighTrialsB), lavender, 0.6, 3, 5),
  ...refLevels.map(r => hLine(0.51, 2.51, r, dashStyle, 3, 3, 5)),
  hLine(0.51, 1.5, soundGrandMean[0], meanStyle, 4, 3, 5),
  hLine(1.5, 2.51, soundGrandMean[1], meanStyle, 4, 3, 5),
  meanCircles(soundLowMeans, blue, 3, 5),
  meanCircles(soundHighMeans, lavender, 3, 5)
]

const titleStyle = { fontSize: 29, fontWeight: 'bold', color: '#000', fontFamily: font }

const option = {
  animation: false,
  backgroundColor: '#fff',
  title: [
    { text: 'Pain calibration by subject', left: 271, top: 7, textAlign: 'center', textStyle: titleStyle },
    { text: 'Sound calibration by subject', left: 781, top: 7, textAlign: 'center', textStyle: titleStyle },
    { text: 'Single trial pain ratings', left: 316, top: 547, textAlign: 'center', textStyle: titleStyle },
    { text: 'Single trial sound ratings', left: 826, top: 547, textAlign: 'center', textStyle: titleStyle },
    { text: 'A', left: 6, top: 5, textStyle: titleStyle },
    { text: 'B', left: 6, top: 552, textStyle: titleStyle }
  ],
  grid: [
    { left: 75, top: 43, width: 391, height: 392 },
    { left: 586, top: 43, width: 390, height: 392 },
    { left: 127, top: 583, width: 380, height: 392 },
    { left: 635, top: 583, width: 381, height: 392 }
  ],
  xAxis: [
    xAxisFor(0, 0.5, 2.5),
    xAxisFor(1, 0.5, 2.5),
    xAxisFor(2, 0.52, 2.52),
    xAxisFor(3, 0.51, 2.51)
  ],
  yAxis: [
    yAxisFor(0, 42.5, 49.5, tempTicks, 'Temperature (°C)', 25),
    yAxisFor(0, 42.5, 49.5, tempTicks, '', 0, 'right'),
    yAxisFor(1, 5, 105, volTicks, 'System Volume (%)', 40),
    yAxisFor(1, 5, 105, volTicks, '', 0, 'right'),
    yAxisFor(2, 0, 100, vasTicks, 'VAS rating\n(large circle=subject mean)', 42),
    yAxisFor(3, 0, 100, vasTicks, 'VAS rating\n(large circle=subject mean)', 39)
  ],
  series
}
// right-hand axes sit a little closer to their labels
option.yAxis[1].axisLabel.margin = 4
option.yAxis[3].axisLabel.margin = 4

const chart = echarts.init(document.getElementById('main'))
chart.setOption(option)
window.addEventListener('resize', () => chart.resize())
</script>
</body>
</html>
